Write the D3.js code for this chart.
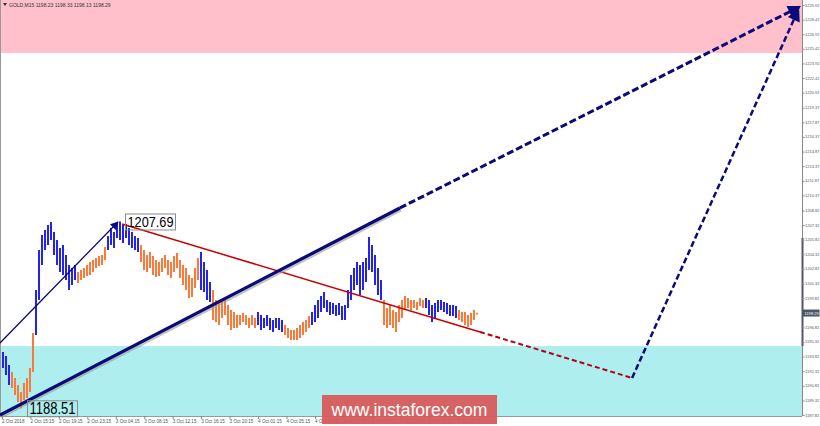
<!DOCTYPE html>
<html><head><meta charset="utf-8">
<script src="https://cdn.jsdelivr.net/npm/d3@7"></script>
<style>html,body{margin:0;padding:0;background:#fff;}svg{display:block;}</style>
</head><body>
<svg id="c" width="820" height="426"></svg>
<script>
// ---------- data ----------
const symbolTitle = "GOLD,M15  1198.23 1198.33 1198.13 1198.29";
const priceTicks = [1229.92,1228.42,1226.92,1225.42,1223.92,1222.42,1220.92,1219.37,1217.87,1216.37,1214.87,1213.37,1211.87,1210.37,1208.82,1207.32,1205.82,1204.32,1202.82,1201.32,1199.82,1196.82,1195.32,1193.82,1192.32,1190.82,1189.32,1187.82];
const currentPrice = 1198.29;
const timeLabels = ["2 Oct 2018","2 Oct 15:15","2 Oct 19:15","2 Oct 23:15","3 Oct 04:15","3 Oct 08:15","3 Oct 12:15","3 Oct 16:15","3 Oct 20:15","4 Oct 01:15","4 Oct 05:15","4 Oct 09:15","4 Oct 13:15","4 Oct 17:15","4 Oct 21:15","5 Oct 01:15","5 Oct 05:15"];
const highs = [1194.30,1193.88,1192.96,1192.24,1191.62,1190.90,1190.18,1191.11,1191.62,1192.65,
1196.24,1200.66,1204.77,1206.30,1206.82,1207.33,1207.64,1206.61,1205.79,1204.97,
1205.28,1204.25,1203.22,1202.91,1203.22,1202.50,1202.71,1202.91,1203.22,1203.53,
1203.74,1203.94,1204.15,1204.25,1205.07,1206.20,1207.02,1206.61,1207.64,1207.69,
1207.33,1207.43,1207.02,1206.61,1206.20,1205.99,1205.28,1204.77,1204.25,1204.56,
1204.15,1203.74,1203.53,1203.94,1204.25,1203.74,1203.53,1204.15,1204.46,1203.74,
1203.22,1202.91,1202.20,1201.89,1202.91,1203.94,1204.56,1203.53,1202.71,1201.48,
1200.66,1199.63,1199.32,1199.63,1199.83,1199.12,1198.61,1198.40,1198.09,1198.09,
1198.30,1198.09,1197.78,1198.09,1197.78,1198.40,1198.09,1197.78,1198.09,1197.78,
1197.58,1197.78,1197.78,1197.58,1197.06,1196.76,1196.55,1196.55,1196.76,1197.06,
1197.37,1197.58,1197.99,1198.40,1199.12,1199.63,1200.04,1200.45,1199.63,1199.42,
1199.32,1199.12,1199.32,1199.01,1199.12,1200.66,1202.20,1202.91,1203.53,1203.22,
1203.53,1203.94,1206.10,1205.28,1204.25,1202.91,1201.69,1199.63,1198.81,1199.12,
1198.61,1198.40,1199.12,1199.63,1200.04,1199.83,1199.63,1199.63,1199.42,1199.83,
1199.63,1199.83,1199.63,1199.12,1199.32,1199.63,1199.63,1199.42,1199.32,1199.12,
1199.12,1199.01,1198.61,1198.40,1198.40,1198.09,1198.30,1198.61,1198.33];
const lows = [1192.65,1191.93,1190.90,1190.59,1189.87,1189.16,1188.51,1189.36,1189.57,1190.18,
1192.24,1196.04,1199.63,1203.22,1204.77,1205.28,1205.79,1204.25,1203.22,1202.50,
1202.20,1201.69,1200.66,1201.17,1201.69,1201.38,1201.69,1201.89,1202.09,1202.20,
1202.50,1202.91,1203.12,1203.22,1203.74,1204.77,1205.28,1204.97,1205.99,1205.79,
1205.48,1205.99,1205.28,1204.97,1204.77,1204.56,1203.53,1202.71,1202.50,1202.91,
1202.20,1201.99,1202.09,1202.50,1202.91,1202.20,1201.89,1202.50,1202.91,1201.89,
1201.17,1200.66,1199.83,1199.94,1200.86,1201.69,1200.66,1200.45,1199.63,1199.42,
1197.58,1197.37,1197.06,1197.78,1198.09,1197.06,1196.55,1196.76,1196.76,1197.06,
1197.37,1197.06,1196.76,1197.06,1196.76,1197.06,1196.55,1196.76,1196.96,1196.55,
1196.34,1196.76,1196.55,1196.34,1196.04,1195.73,1195.53,1195.53,1195.53,1195.73,
1196.04,1196.34,1196.76,1197.06,1197.37,1197.78,1198.40,1198.81,1198.40,1198.09,
1198.19,1197.99,1198.09,1197.58,1197.58,1198.81,1199.63,1200.66,1201.17,1200.14,
1200.66,1201.48,1202.71,1202.50,1201.17,1200.14,1199.63,1197.06,1196.76,1197.06,
1196.76,1196.34,1197.37,1197.78,1198.61,1198.81,1198.61,1198.81,1198.61,1199.01,
1198.81,1198.81,1198.09,1197.37,1197.78,1198.40,1198.61,1198.40,1198.19,1197.99,
1197.99,1197.78,1197.58,1197.37,1197.06,1196.86,1197.06,1197.58,1198.13];
// wave segments: start bar index, alternating impulse (blue) / correction (orange)
const waveStarts = [0,3,11,25,35,46,66,70,85,94,103,127,141,152];
// zones (price ranges)
const resistanceZone = [1225.0, 1232.0];
const supportZone = [1187.82, 1194.9];
// wave forecast lines: bar index / price
const thinArrowIdx = [-1, 38.3], thinArrowPrice = [1195.22, 1207.64];
const mainTrendIdx = [-1, 132.3, 265.6], mainTrendPrice = [1187.82, 1209.08, 1229.75];
const redLineIdx = [39.7, 159, 209.7], redLinePrice = [1207.43, 1196.35, 1191.62];
const finalLegIdx = [209.7, 265.2], finalLegPrice = [1191.62, 1229.5];
const markHigh = {idx: 39, price: 1207.69, label: "1207.69"};
const markLow = {idx: 6, price: 1188.51, label: "1188.51"};
const watermark = "www.instaforex.com";

// ---------- drawing ----------
const svg = d3.select("#c");
const W = 802, H = 416;
const x = d3.scaleLinear().domain([0, highs.length - 1]).range([3, 477]);
const y = d3.scaleLinear().domain([1187.82, 1229.92]).range([415, 5]);
const tx = d3.scaleLinear().domain([0, timeLabels.length - 1]).range([2, 457.2]);
const FONT = "Liberation Sans, Arial, sans-serif";

svg.append("rect").attr("x",0).attr("y",0).attr("width",820).attr("height",426).attr("fill","#fff");
// zones
svg.append("rect").attr("x",0).attr("width",W)
  .attr("y", Math.max(0, y(resistanceZone[1]))).attr("height", y(resistanceZone[0]) - Math.max(0, y(resistanceZone[1])))
  .attr("fill","#ffc0cb");
svg.append("rect").attr("x",0).attr("width",W)
  .attr("y", y(supportZone[1])).attr("height", H - y(supportZone[1]))
  .attr("fill","#afeeee");

// frame
svg.append("line").attr("x1",0.5).attr("x2",0.5).attr("y1",0).attr("y2",H).attr("stroke","#999");
svg.append("line").attr("x1",W+0.5).attr("x2",W+0.5).attr("y1",0).attr("y2",H).attr("stroke","#888");
svg.append("line").attr("x1",W+0.5).attr("x2",W+0.5).attr("y1",y(1206.0)).attr("y2",y(1194.9)).attr("stroke","#556").attr("stroke-width",2);
svg.append("line").attr("x1",0).attr("x2",W).attr("y1",H+0.5).attr("y2",H+0.5).attr("stroke","#999");

// bars
const colorFor = i => { let k = 0; waveStarts.forEach((s, j) => { if (i >= s) k = j; }); return k % 2 === 0 ? "#2323f0" : "#fb7a3a"; };
svg.append("g").selectAll("line").data(highs).join("line")
  .attr("x1",(d,i)=>x(i)).attr("x2",(d,i)=>x(i))
  .attr("y1",d=>y(d)).attr("y2",(d,i)=>y(lows[i]))
  .attr("stroke",(d,i)=>colorFor(i)).attr("stroke-width",2);

// markers
const defs = svg.append("defs");
function marker(id, color, w, h) {
  defs.append("marker").attr("id",id).attr("viewBox","0 0 10 10").attr("refX",9).attr("refY",5)
    .attr("markerUnits","userSpaceOnUse").attr("markerWidth",w).attr("markerHeight",h).attr("orient","auto")
    .append("path").attr("d","M0,0 L10,5 L0,10 Z").attr("fill",color);
}
marker("arrNavyBig","#0a0a78",16,13);
marker("arrNavySmall","#0a0a78",10,8);

const pts = (idx, pr) => idx.map((v,i)=>[x(v), y(pr[i])]);
const lineGen = d3.line();

// thin arrow
svg.append("path").attr("d", lineGen(pts(thinArrowIdx, thinArrowPrice)))
  .attr("stroke","#0a0a78").attr("stroke-width",1.3).attr("fill","none").attr("marker-end","url(#arrNavySmall)");

// red line
const rp = pts(redLineIdx, redLinePrice);
svg.append("path").attr("d", lineGen([rp[0], rp[1]])).attr("stroke","#c80000").attr("stroke-width",1.5).attr("fill","none");
svg.append("path").attr("d", lineGen([rp[1], rp[2]])).attr("stroke","#b3001a").attr("stroke-width",2).attr("stroke-dasharray","5,3").attr("fill","none");

// main trend thick
const mp = pts(mainTrendIdx, mainTrendPrice);
svg.append("path").attr("d", lineGen([mp[0], mp[1]])).attr("transform","translate(1,2)")
  .attr("stroke","#999").attr("stroke-opacity",0.6).attr("stroke-width",3).attr("fill","none");
svg.append("path").attr("d", lineGen([mp[0], mp[1]])).attr("stroke","#0a0a78").attr("stroke-width",3.2).attr("fill","none");
svg.append("path").attr("d", lineGen([mp[1], mp[2]])).attr("stroke","#0a0a78").attr("stroke-width",3)
  .attr("stroke-dasharray","7,3").attr("fill","none").attr("marker-end","url(#arrNavyBig)");

// final leg
svg.append("path").attr("d", lineGen(pts(finalLegIdx, finalLegPrice))).attr("stroke","#0a0a78").attr("stroke-width",2.5)
  .attr("stroke-dasharray","6,3").attr("fill","none").attr("marker-end","url(#arrNavyBig)");

// price labels (boxes)
function priceBox(m, dx, dy, w, h, fs) {
  const bx = x(m.idx) + dx, by = y(m.price) + dy;
  svg.append("rect").attr("x",bx+0.5).attr("y",by+0.5).attr("width",w).attr("height",h)
    .attr("fill","none").attr("stroke","#8a8a8a");
  svg.append("text").attr("x",bx+2.5).attr("y",by+h-2.5).attr("font-family",FONT)
    .attr("font-size",fs).attr("textLength",w-4).attr("lengthAdjust","spacingAndGlyphs").attr("fill","#000").text(m.label);
}
priceBox(markHigh, 5, -8, 50, 16, 15);
priceBox(markLow, 6, -8, 50, 16, 16);

// right axis labels
const ax = svg.append("g").attr("font-family",FONT).attr("font-size",4).attr("fill","#555");
ax.selectAll("text").data(priceTicks).join("text").attr("x",805).attr("y",d=>y(d)+1.5).text(d=>d.toFixed(2));
ax.selectAll("line").data(priceTicks).join("line").attr("x1",W).attr("x2",W+2.5).attr("y1",d=>y(d)+0.5).attr("y2",d=>y(d)+0.5).attr("stroke","#888");
svg.append("rect").attr("x",803).attr("y",y(currentPrice)-3.5).attr("width",16.5).attr("height",7).attr("fill","#4a5566");
svg.append("text").attr("x",804.5).attr("y",y(currentPrice)+1.5).attr("font-family",FONT)
  .attr("font-size",4).attr("fill","#fff").text(currentPrice.toFixed(2));

// bottom time labels
const bt = svg.append("g").attr("font-family",FONT).attr("font-size",4.6).attr("fill","#555");
bt.selectAll("text").data(timeLabels).join("text").attr("x",(d,i)=>tx(i)).attr("y",422.5).text(d=>d);
bt.selectAll("line").data(timeLabels).join("line").attr("x1",(d,i)=>tx(i)+0.5).attr("x2",(d,i)=>tx(i)+0.5).attr("y1",H).attr("y2",H+3).attr("stroke","#888");

// title
svg.append("path").attr("d","M3,3 L7,3 L5,6 Z").attr("fill","#333");
svg.append("text").attr("x",9).attr("y",6.5).attr("font-family",FONT).attr("font-size",5).attr("fill","#333").text(symbolTitle);

// watermark
svg.append("rect").attr("x",322).attr("y",395).attr("width",175).attr("height",29).attr("fill","#d75b5b").attr("fill-opacity",0.95);
svg.append("text").attr("x",409.5).attr("y",416).attr("text-anchor","middle").attr("font-family",FONT)
  .attr("font-size",18).attr("textLength",156).attr("lengthAdjust","spacingAndGlyphs").attr("fill","#fff").text(watermark);
</script>
</body></html>
